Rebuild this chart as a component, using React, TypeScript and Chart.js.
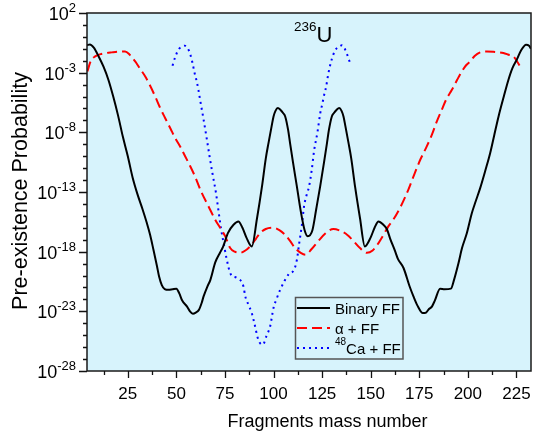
import React, { useEffect, useRef } from "react";
import { Chart, registerables } from "chart.js";

Chart.register(...registerables);

// [fragment mass number, log10(pre-existence probability)]
const binaryFF: [number, number][] = [
  [4, -0.7], [5.5, -0.63], [7.5, -0.9], [10, -1.64], [12.5, -2.5], [15, -3.59],
  [17.5, -5.0], [20, -6.6], [22.5, -8.4], [25, -10.0], [27.5, -11.8], [30, -13.2],
  [32.5, -14.4], [34.8, -15.6], [36.5, -16.6], [38.2, -17.84], [40, -19.2], [41.1, -20.08],
  [42.5, -20.8], [44, -21.14], [46, -21.2], [48, -21.15], [50, -21.1], [51.5, -21.5],
  [53, -22.1], [55.5, -22.6], [57, -23.0], [58.5, -23.2], [60, -23.1], [61.5, -22.9],
  [63, -22.3], [64, -21.75], [66, -20.9], [67.5, -20.36], [70, -18.9], [72.5, -18.07],
  [74, -17.6], [76.5, -16.44], [79.4, -15.74], [81.9, -15.47], [84, -16.0], [86, -16.8],
  [88.8, -17.56], [91.5, -15.2], [94, -12.6], [96, -10.2], [97.4, -8.9], [99, -7.5],
  [100, -6.67], [101, -6.2], [102.2, -5.96], [103.5, -6.1], [105, -6.4], [106, -6.67],
  [107.5, -7.8], [108.5, -8.9], [110, -10.5], [112, -12.53], [114, -14.6], [116, -16.2],
  [117.6, -16.7], [120, -16.2], [122, -14.4], [124, -12.53], [126, -10.5], [127.5, -8.9],
  [128.5, -7.8], [130, -6.67], [131, -6.4], [132.5, -6.1], [133.8, -5.96], [135, -6.2],
  [136, -6.67], [137, -7.5], [138.6, -8.9], [140, -10.2], [142, -12.6], [144.5, -15.2],
  [147, -17.56], [150, -16.8], [152, -16.0], [154, -15.47], [156.5, -15.74], [158.3, -16.1],
  [160, -16.9], [162.6, -17.98], [164, -18.6], [166.9, -19.37], [170, -20.9], [172, -21.75],
  [174, -22.5], [176.8, -23.15], [178.5, -23.1], [180, -22.8], [181.5, -22.6], [183, -22.1],
  [185.7, -21.1], [188, -21.15], [191.3, -21.1], [193, -20.3], [195.2, -18.95], [197, -17.7],
  [199.5, -16.44], [202, -14.8], [204, -13.8], [206.3, -12.7], [209, -11.2], [211.5, -9.73],
  [213.5, -8.3], [215.8, -6.67], [218.5, -5.0], [220.9, -3.59], [223, -2.6], [225.2, -1.91],
  [227.5, -1.1], [230, -0.66], [231.5, -0.75], [232.5, -1.0],
];

const alphaFF: [number, number][] = [
  [4.2, -2.9], [6, -2.0], [8.2, -1.64], [11, -1.45], [14, -1.35], [16.8, -1.3],
  [20, -1.25], [23.6, -1.22], [26, -1.5], [28.8, -2.06], [31, -2.6], [33.9, -3.3],
  [36.5, -4.1], [39.1, -5.0], [41.5, -5.9], [44.2, -6.8], [47, -7.7], [49.4, -8.48],
  [52, -9.2], [54.5, -10.0], [57, -10.8], [59.6, -11.7], [62.7, -12.95], [66.5, -14.2],
  [69.9, -15.3], [72.5, -16.0], [75.1, -16.7], [77.7, -17.7], [80, -18.0], [82.8, -18.1],
  [85.5, -17.9], [88.8, -17.4], [91, -16.9], [93.1, -16.44], [96, -16.1], [100, -16.0],
  [103, -16.2], [106, -16.6], [108.5, -17.1], [111.1, -17.7], [114, -18.1], [116.5, -18.26],
  [119.5, -17.8], [123.1, -17.1], [126.5, -16.5], [130.8, -16.1], [135, -16.3], [138, -16.6],
  [141.1, -17.1], [144.5, -17.7], [148, -18.1], [151, -17.9], [153.5, -17.4], [156.9, -16.5],
  [159, -15.9], [161.7, -15.3], [165.5, -14.2], [169.4, -12.8], [172.5, -11.5], [175.5, -10.3],
  [178.5, -9.3], [181.5, -8.2], [184, -7.1], [186.6, -6.1], [189, -5.2], [191.8, -4.43],
  [194.5, -3.6], [196.9, -2.9], [199, -2.4], [201.2, -2.06], [203.5, -1.6], [206.3, -1.3],
  [209.8, -1.22], [214, -1.27], [218.3, -1.35], [221, -1.5], [223.5, -1.64], [225.5, -2.1],
  [227.8, -2.75],
];

const caFF: [number, number][] = [
  [48, -2.42], [49.4, -1.69], [51.3, -1.02], [52.8, -0.85], [54.3, -0.74], [55.8, -0.95],
  [57.1, -1.44], [58.3, -2.19], [59.3, -2.98], [60.5, -3.76], [61.4, -4.5], [62.2, -5.27],
  [63.9, -6.83], [65.5, -8.4], [67, -9.94], [68.6, -11.47], [70.3, -13.0], [71.6, -14.5],
  [73, -16.1], [74.7, -17.6], [75.6, -18.4], [78, -19.9], [81.1, -20.2], [84.5, -20.9],
  [85.4, -21.7], [87.1, -22.45], [88.8, -23.15], [90, -23.9], [92.2, -25.4], [94.5, -25.8],
  [96.5, -25.0], [98.2, -24.3], [100, -22.7], [101.7, -21.9], [103.4, -21.2], [107.7, -19.9],
  [110.6, -19.5], [112, -18.7], [113.2, -17.3], [114.6, -15.75], [115.7, -14.2], [117.1, -13.2],
  [118.2, -12.6], [119.7, -11.1], [120.9, -9.5], [122.6, -8.0], [124, -6.44], [125, -5.69],
  [126, -4.9], [127.1, -4.15], [127.9, -3.36], [128.8, -2.61], [130, -1.86], [131.7, -1.13],
  [133.5, -0.85], [135.2, -0.71], [136.5, -0.95], [137.7, -1.41], [139.4, -2.19],
];

const seriesNames = ["Binary FF", "α + FF", "Ca + FF"];
const xMajorTicks = [25, 50, 75, 100, 125, 150, 175, 200, 225];
const yLabelExponents = [2, -3, -8, -13, -18, -23, -28];
const X_MIN = 4;
const X_MAX = 232.5;
const Y_MIN_EXP = -28;
const Y_MAX_EXP = 2;

const FONT = "Arial, 'Liberation Sans', Helvetica, sans-serif";
const BG = "#d7f3fc";

const toPoints = (arr: [number, number][]) => arr.map(([a, e]) => ({ x: a, y: Math.pow(10, e) }));

const decorations = {
  id: "decorations",
  beforeDraw(chart: any) {
    const { ctx, chartArea: a } = chart;
    ctx.save();
    ctx.fillStyle = "#ffffff";
    ctx.fillRect(0, 0, chart.width, chart.height);
    ctx.fillStyle = BG;
    ctx.fillRect(a.left, a.top, a.right - a.left, a.bottom - a.top);
    ctx.restore();
  },
  afterDraw(chart: any) {
    const { ctx, chartArea: a } = chart;
    const xs = chart.scales.x;
    const ys = chart.scales.y;
    ctx.save();

    // frame
    ctx.strokeStyle = "#1a1a1a";
    ctx.lineWidth = 1.5;
    ctx.strokeRect(a.left, a.top, a.right - a.left, a.bottom - a.top);

    // y ticks
    ctx.lineWidth = 1.3;
    ctx.strokeStyle = "#111";
    ctx.beginPath();
    for (let k = Y_MIN_EXP; k <= Y_MAX_EXP; k++) {
      const py = Math.round(ys.getPixelForValue(Math.pow(10, k))) + 0.5;
      const major = (k - Y_MIN_EXP) % 5 === 0;
      ctx.moveTo(a.left, py);
      ctx.lineTo(a.left - (major ? 8 : 4), py);
    }
    // x ticks
    for (let v = 12.5; v < X_MAX; v += 12.5) {
      if (v < X_MIN) continue;
      const px = Math.round(xs.getPixelForValue(v)) + 0.5;
      const major = v % 25 === 0;
      ctx.moveTo(px, a.bottom);
      ctx.lineTo(px, a.bottom + (major ? 7 : 4));
    }
    ctx.stroke();

    ctx.fillStyle = "#000";
    // x tick labels
    ctx.font = `17px ${FONT}`;
    ctx.textAlign = "center";
    ctx.textBaseline = "alphabetic";
    xMajorTicks.forEach((v) => {
      ctx.fillText(String(v), xs.getPixelForValue(v), 399);
    });

    // y tick labels with superscripts
    yLabelExponents.forEach((e) => {
      const py = ys.getPixelForValue(Math.pow(10, e));
      const sup = String(e);
      ctx.font = `13px ${FONT}`;
      const ws = ctx.measureText(sup).width;
      ctx.textAlign = "left";
      const right = 76;
      ctx.fillText(sup, right - ws, py - 1);
      ctx.font = `18px ${FONT}`;
      ctx.textAlign = "right";
      ctx.fillText("10", right - ws, py + 7);
    });

    // axis titles
    ctx.font = `18px ${FONT}`;
    ctx.textAlign = "center";
    ctx.fillText("Fragments mass number", 327.5, 427);
    ctx.save();
    ctx.translate(27, 191);
    ctx.rotate(-Math.PI / 2);
    ctx.font = `21.5px ${FONT}`;
    ctx.fillText("Pre-existence Probability", 0, 0);
    ctx.restore();

    // 236U annotation
    ctx.textAlign = "left";
    ctx.font = `13.5px ${FONT}`;
    ctx.fillText("236", 294, 31);
    const w236 = ctx.measureText("236").width;
    ctx.font = `22px ${FONT}`;
    ctx.fillText("U", 294 + w236, 42);

    // legend
    const lx = 295.5, ly = 297.5, lw = 107.5, lh = 61.5;
    ctx.fillStyle = BG;
    ctx.fillRect(lx, ly, lw, lh);
    ctx.strokeStyle = "#555";
    ctx.lineWidth = 1.5;
    ctx.strokeRect(lx, ly, lw, lh);
    const rows = [
      { color: "#000000", dash: [] as number[], y: 308 },
      { color: "#ff0000", dash: [10, 5], y: 328 },
      { color: "#0000ff", dash: [2, 4], y: 348 },
    ];
    rows.forEach((r) => {
      ctx.beginPath();
      ctx.setLineDash(r.dash);
      ctx.strokeStyle = r.color;
      ctx.lineWidth = 2;
      ctx.moveTo(297, r.y);
      ctx.lineTo(330, r.y);
      ctx.stroke();
    });
    ctx.setLineDash([]);
    ctx.fillStyle = "#000";
    ctx.font = `15px ${FONT}`;
    ctx.fillText(seriesNames[0], 335, 313.5);
    ctx.fillText(seriesNames[1], 335, 333.5);
    ctx.font = `10px ${FONT}`;
    ctx.fillText("48", 335, 345);
    const w48 = ctx.measureText("48").width;
    ctx.font = `15px ${FONT}`;
    ctx.fillText(seriesNames[2], 335 + w48, 353.5);

    ctx.restore();
  },
};

export default function App() {
  const ref = useRef<HTMLCanvasElement>(null);
  useEffect(() => {
    const canvas = ref.current;
    if (!canvas) return;
    const chart = new Chart(canvas, {
      type: "line",
      data: {
        datasets: [
          {
            label: seriesNames[0],
            data: toPoints(binaryFF),
            borderColor: "#000000",
            borderWidth: 2,
            pointRadius: 0,
            cubicInterpolationMode: "monotone",
          },
          {
            label: seriesNames[1],
            data: toPoints(alphaFF),
            borderColor: "#ff0000",
            borderWidth: 2,
            borderDash: [10, 5],
            pointRadius: 0,
            cubicInterpolationMode: "monotone",
          },
          {
            label: "48" + seriesNames[2],
            data: toPoints(caFF),
            borderColor: "#0000ff",
            borderWidth: 2,
            borderDash: [2, 4],
            pointRadius: 0,
            cubicInterpolationMode: "monotone",
          },
        ],
      },
      options: {
        responsive: false,
        animation: false,
        devicePixelRatio: 1,
        layout: { padding: { left: 87, top: 13, right: 3, bottom: 73 } },
        scales: {
          x: { type: "linear", min: X_MIN, max: X_MAX, display: false },
          y: { type: "logarithmic", min: Math.pow(10, Y_MIN_EXP), max: Math.pow(10, Y_MAX_EXP), display: false },
        },
        plugins: { legend: { display: false }, tooltip: { enabled: false } },
      },
      plugins: [decorations],
    } as any);
    return () => chart.destroy();
  }, []);
  return (
    <div style={{ position: "fixed", left: 0, top: 0, width: 534, height: 444, background: "#fff" }}>
      <canvas ref={ref} width={534} height={444} style={{ display: "block", width: 534, height: 444 }} />
    </div>
  );
}
